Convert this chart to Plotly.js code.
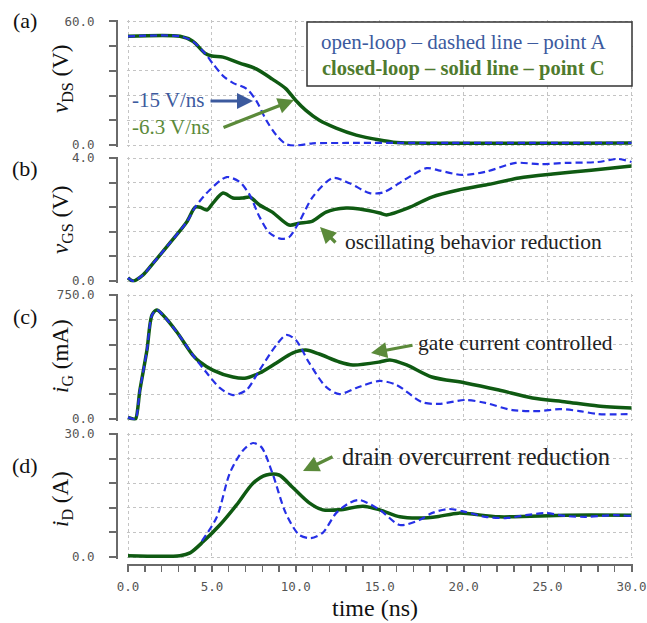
<!DOCTYPE html>
<html>
<head>
<meta charset="utf-8">
<script src="https://cdn.plot.ly/plotly-3.0.1.min.js"></script>
<style>html,body{margin:0;padding:0;background:#fff;}#chart{width:647px;height:623px;}</style>
</head>
<body>
<div id="chart"></div>
<script>
// ---------- data ----------
// (a) drain-source voltage, V
const tA_ol = [0, 3.1, 3.86, 4.58, 5.07, 5.66, 6.25, 7.05, 7.64, 8.24, 8.84, 9.4, 9.9, 11, 13, 20, 30];
const vA_ol = [52.8, 52.8, 50.4, 44.6, 39.4, 33.6, 30.2, 27.4, 21.6, 12, 4.8, 0.5, -0.3, 0.8, 1, 1, 1];
const tA_cl = [0, 3.1, 3.86, 4.58, 5.0, 5.66, 6.65, 7.64, 8.6, 9.4, 10.0, 10.6, 11.4, 12.4, 13.6, 15, 15.8, 17, 30];
const vA_cl = [52.8, 52.8, 50.4, 44.6, 43.2, 42.7, 39.8, 37, 32, 27.4, 21.6, 16.8, 12, 8.2, 4.8, 2.4, 1.4, 1, 1];
// (b) gate-source voltage, V
const tB_ol = [0, 0.3, 0.9, 1.5, 2.5, 3.5, 4.0, 4.87, 5.88, 6.65, 7.25, 7.84, 8.44, 9.15, 9.6, 10.2, 11, 12.2, 13.2, 14.4, 15.2, 16.5, 17.8, 18.5, 19.9, 21.3, 23.1, 24.5, 26.1, 28, 29.2, 30];
const vB_ol = [0.1, 0, 0.2, 0.58, 1.24, 1.92, 2.4, 2.96, 3.38, 3.22, 2.8, 2.08, 1.56, 1.37, 1.43, 1.92, 2.73, 3.35, 3.18, 2.86, 2.88, 3.3, 3.67, 3.6, 3.45, 3.55, 3.84, 3.8, 3.84, 3.87, 3.97, 3.87];
const tB_cl = [0, 0.3, 0.9, 1.5, 2.5, 3.5, 4.0, 4.3, 4.7, 5.07, 5.66, 6.25, 6.85, 7.25, 7.84, 8.6, 9.6, 10.2, 11.0, 11.8, 13.0, 13.8, 15.0, 15.4, 16.8, 18.1, 19.7, 21.3, 23.3, 25.3, 27.6, 30];
const vB_cl = [0.1, 0, 0.2, 0.58, 1.24, 1.92, 2.4, 2.4, 2.31, 2.54, 2.86, 2.7, 2.7, 2.73, 2.47, 2.24, 1.82, 1.88, 1.95, 2.24, 2.37, 2.34, 2.21, 2.15, 2.4, 2.73, 2.96, 3.12, 3.35, 3.48, 3.6, 3.74];
// (c) gate current, mA
const tC_ol = [0, 0.3, 0.45, 0.71, 1.13, 1.43, 1.72, 2.08, 2.91, 3.86, 4.7, 5.47, 6.25, 7.05, 7.84, 8.84, 9.43, 10.0, 10.8, 11.8, 12.6, 13.6, 15.0, 16.0, 17.5, 18.5, 20.1, 21.3, 22.9, 24.5, 25.7, 26.9, 28, 30];
const iC_ol = [10, 0, 0, 175, 417, 629, 660, 629, 526, 387, 278, 188, 145, 175, 296, 448, 508, 478, 339, 194, 151, 188, 230, 206, 103, 91, 115, 97, 54, 48, 60, 48, 30, 30];
const tC_cl = [0, 0.3, 0.45, 0.71, 1.13, 1.43, 1.72, 2.08, 2.91, 3.86, 4.28, 5.05, 6.25, 7.05, 7.84, 8.84, 9.8, 10.6, 11.4, 12.6, 13.4, 15.0, 15.6, 16.6, 18.1, 20.1, 22.1, 24.1, 26.1, 28, 30];
const iC_cl = [10, 0, 0, 175, 417, 629, 660, 629, 526, 387, 345, 296, 254, 248, 278, 339, 399, 417, 393, 345, 327, 345, 357, 327, 254, 218, 175, 127, 103, 79, 67];
// (d) drain current, A
const tD_ol = [4.4, 5.3, 6.07, 6.85, 7.45, 7.95, 8.6, 9.4, 10.2, 10.9, 11.6, 12.4, 13.2, 13.8, 15.0, 16.2, 17.35, 18.1, 19.1, 20.1, 21.3, 22.5, 23.7, 24.9, 26.1, 27.3, 29, 30];
const iD_ol = [3.9, 9.8, 20.5, 26, 27.8, 26.8, 20.5, 10.7, 5.4, 4.6, 5.9, 10.7, 13.2, 13.9, 11.5, 7.8, 9, 10.7, 11.7, 11, 9.8, 9.5, 10.2, 10.7, 10, 9.8, 10.2, 10];
const tD_cl = [0, 3.09, 3.7, 4.47, 5.47, 6.47, 7.45, 8.24, 9.0, 9.8, 10.8, 11.6, 12.6, 14.0, 15.0, 16.2, 17.4, 18.5, 19.7, 22.1, 26.1, 30];
const iD_cl = [0.3, 0.3, 1, 3.7, 7.8, 12.7, 18, 20, 20, 17, 13.2, 11.5, 11.5, 12.4, 11.5, 9.8, 9.5, 9.9, 10.7, 9.8, 10.2, 10.2];

// tick labels
const timeTicks = [0, 5, 10, 15, 20, 25, 30];
const timeLabels = ['0.0', '5.0', '10.0', '15.0', '20.0', '25.0', '30.0'];
const yTicksA = [0, 12, 24, 36, 48, 60];
const yTicksB = [0, 0.8, 1.6, 2.4, 3.2, 4.0];
const yTicksC = [0, 150, 300, 450, 600, 750];
const yTicksD = [0, 6, 12, 18, 24, 30];
const yLabelsA = ['0.0', '', '', '', '', '60.0'];
const yLabelsB = ['0.0', '', '', '', '', '4.0'];
const yLabelsC = ['0.0', '', '', '', '', '750.0'];
const yLabelsD = ['0.0', '', '', '', '', '30.0'];

// ---------- styling ----------
const BLUE = '#2630e6', GREEN = '#0f5a12';
const serif = 'Times New Roman, Liberation Serif, DejaVu Serif, serif';
const mono = 'DejaVu Sans Mono';
const L = 117, W = 516, B = 565, H = 545;
const PX = X => (X - L) / W;
const PY = Y => (B - Y) / H;
const pad = (lo, hi, px) => { const d = (hi - lo) * 1.5 / px; return [lo - d, hi + d]; };

function cl(x, y, ax) {
  return {x: x, y: y, xaxis: 'x' + ax, yaxis: 'y' + ax, mode: 'lines', type: 'scatter',
    line: {color: GREEN, width: 3.5, shape: 'spline', smoothing: 0.8}, hoverinfo: 'skip', showlegend: false};
}
function ol(x, y, ax) {
  return {x: x, y: y, xaxis: 'x' + ax, yaxis: 'y' + ax, mode: 'lines', type: 'scatter',
    line: {color: BLUE, width: 2.2, dash: '7px,4px', shape: 'spline', smoothing: 0.8}, hoverinfo: 'skip', showlegend: false};
}
const traces = [
  cl(tA_cl, vA_cl, ''), ol(tA_ol, vA_ol, ''),
  cl(tB_cl, vB_cl, '2'), ol(tB_ol, vB_ol, '2'),
  cl(tC_cl, iC_cl, '3'), ol(tC_ol, iC_ol, '3'),
  cl(tD_cl, iD_cl, '4'), ol(tD_ol, iD_ol, '4')
];

const XR = pad(0, 30, 505);
const xdom = [PX(128 - 1.5), PX(633 + 1.5)];
function xax(anchor, bottom) {
  const a = {domain: xdom, range: XR, anchor: anchor, tickvals: timeTicks, ticktext: timeLabels, showgrid: true,
    gridcolor: '#c4c4c4', griddash: 'dot', gridwidth: 1, zeroline: false, showline: false,
    ticks: '', showticklabels: false, fixedrange: true};
  if (bottom) {
    Object.assign(a, {anchor: 'free', position: 0, showline: true, linecolor: '#6a6a6a', linewidth: 2,
      ticks: 'outside', ticklen: 6, tickwidth: 2, tickcolor: '#6a6a6a', showticklabels: true,
      ticklabeloverflow: 'allow', ticklabelstandoff: 4,
      tickfont: {family: mono, size: 12.5, color: '#555'},
      minor: {tickvals: Array.from({length: 31}, (_, i) => i), ticks: 'outside', ticklen: 6, tickwidth: 1.5, tickcolor: '#6a6a6a', showgrid: false}});
  }
  return a;
}
function yax(top, bot, range, vals, labels) {
  return {domain: [PY(bot + 1.5), PY(top - 1.5)], range: pad(range[0], range[1], bot - top), anchor: 'free', position: 0,
    tickvals: vals, ticktext: labels,
    showline: true, linecolor: '#6a6a6a', linewidth: 2, ticks: 'outside', ticklen: 7, tickwidth: 2,
    tickcolor: '#6a6a6a', tickfont: {family: mono, size: 12.5, color: '#555'}, ticklabelstandoff: 12,
    showgrid: true, gridcolor: '#c4c4c4', griddash: 'dot', gridwidth: 1, zeroline: false, fixedrange: true};
}

function txt(text, X, Y, size, color, extra) {
  return Object.assign({text: text, xref: 'paper', yref: 'paper', x: PX(X), y: PY(Y), xanchor: 'left',
    yanchor: 'middle', showarrow: false, font: {family: serif, size: size, color: color}}, extra || {});
}
function arrow(hx, hy, tx, ty, color) {
  return {text: '', xref: 'paper', yref: 'paper', x: PX(hx), y: PY(hy), ax: tx - hx, ay: ty - hy,
    axref: 'pixel', ayref: 'pixel', showarrow: true, arrowhead: 2, arrowsize: 1, arrowwidth: 3.2,
    arrowcolor: color, standoff: 0, startstandoff: 0};
}

const annotations = [
  // panel letters
  txt('(a)', 25, 21, 22, '#111', {xanchor: 'center'}),
  txt('(b)', 25, 168, 22, '#111', {xanchor: 'center'}),
  txt('(c)', 25, 316, 22, '#111', {xanchor: 'center'}),
  txt('(d)', 25, 465, 22, '#111', {xanchor: 'center'}),
  // y titles
  txt('<i>v</i><sub>DS</sub> (V)', 62, 79, 23, '#111', {xanchor: 'center', textangle: -90}),
  txt('<i>v</i><sub>GS</sub> (V)', 62, 220, 23, '#111', {xanchor: 'center', textangle: -90}),
  txt('<i>i</i><sub>G</sub> (mA)', 62, 356, 23, '#111', {xanchor: 'center', textangle: -90}),
  txt('<i>i</i><sub>D</sub> (A)', 62, 499, 23, '#111', {xanchor: 'center', textangle: -90}),
  // x title
  txt('time (ns)', 375, 608, 24, '#111', {xanchor: 'center'}),
  // legend box text
  txt('open-loop \u2013 dashed line \u2013 point A', 463, 42, 21, '#3c5a9e', {xanchor: 'center'}),
  txt('<b>closed-loop \u2013 solid line \u2013 point C</b>', 463, 68, 20.5, '#4f7b2e', {xanchor: 'center'}),
  // slope annotations
  txt('-15 V/ns', 130, 100, 21, '#3c5a9e'),
  txt('-6.3 V/ns', 130, 127, 21, '#5b8a3a'),
  arrow(253, 101, 209, 101, '#3c5a9e'),
  arrow(294, 100, 222, 128, '#5b8a3a'),
  // comments
  txt('oscillating behavior reduction', 343, 242, 21.5, '#222'),
  arrow(320, 227, 337, 244, '#5b8a3a'),
  txt('gate current controlled', 416, 343, 21.5, '#222'),
  arrow(371, 353, 414, 345, '#5b8a3a'),
  txt('drain overcurrent reduction', 340, 456, 24.5, '#222'),
  arrow(303, 471, 334, 456, '#5b8a3a')
];

const shapes = [
  {type: 'rect', xref: 'paper', yref: 'paper', x0: PX(307), x1: PX(632), y0: PY(86), y1: PY(22),
    line: {color: '#333', width: 1.5}, fillcolor: '#fff', layer: 'above'}
];

const layout = {
  width: 647, height: 623,
  margin: {l: L, r: 647 - L - W, t: B - H, b: 623 - B},
  paper_bgcolor: '#fff', plot_bgcolor: '#fff',
  showlegend: false,
  font: {family: serif},
  xaxis: xax('y', false), xaxis2: xax('y2', false), xaxis3: xax('y3', false), xaxis4: xax('y4', true),
  yaxis: yax(20, 145, [0, 60], yTicksA, yLabelsA),
  yaxis2: yax(158, 281, [0, 4], yTicksB, yLabelsB),
  yaxis3: yax(295, 419, [0, 750], yTicksC, yLabelsC),
  yaxis4: yax(434, 557, [0, 30], yTicksD, yLabelsD),
  annotations: annotations,
  shapes: shapes
};

Plotly.newPlot('chart', traces, layout, {displayModeBar: false, staticPlot: true});
</script>
</body>
</html>
